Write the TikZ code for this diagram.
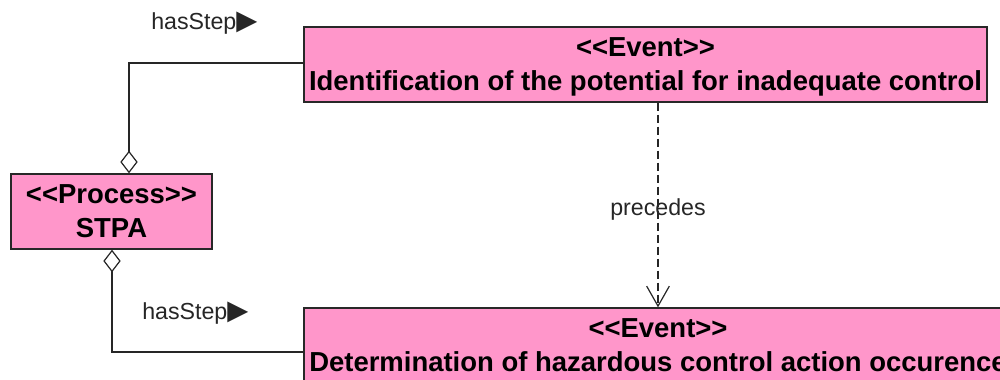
\documentclass[tikz,border=0pt]{standalone}
\usepackage{fontspec}
\setmainfont{Liberation Sans}[Ligatures=TeXOff]
\newfontfamily\symfont{DejaVu Sans}
\usetikzlibrary{arrows.meta}
\definecolor{boxpink}{RGB}{255,150,202}
\definecolor{edgegray}{RGB}{40,40,40}
\newcommand\steptri{{\symfont\fontsize{20.5}{20}\selectfont ▶}}
\begin{document}
\begin{tikzpicture}[x=0.75pt,y=-0.75pt,
  umlbox/.style={draw=edgegray,line width=1pt,fill=boxpink,inner sep=0pt,
    align=center,font=\bfseries\fontsize{20.6}{25.5}\selectfont,text depth=-5pt},
  lbl/.style={inner sep=0pt,font=\fontsize{17.4}{20}\selectfont,text=black!85},
  assoc/.style={draw=black!85,line width=0.9pt,
    -{Diamond[open,fill=white,length=17pt,width=13pt]}},
  dep/.style={draw=black!85,line width=0.9pt,dash pattern=on 6pt off 3pt,
    -{Straight Barb[length=15pt,width=17pt]}}
]
\clip (0,0) rectangle (1000,379);

% classes
\node[umlbox,minimum width=512.25pt,minimum height=56.25pt] (ev1) at (645.5,64.5)
  {<<Event>>\\Identification of the potential for inadequate control};
\node[umlbox,minimum width=150.75pt,minimum height=56.25pt,text depth=-5pt] (stpa) at (111.5,211.5)
  {<<Process>>\\STPA};
\node[umlbox,minimum width=531pt,minimum height=56.25pt] (ev2) at (658,345.5)
  {<<Event>>\\Determination of hazardous control action occurence};

% aggregation links
\coordinate (j1) at (129,63);
\coordinate (j2) at (112,352);
\draw[assoc] (ev1.west |- j1) -- (j1) -- (j1 |- stpa.north);
\draw[assoc] (ev2.west |- j2) -- (j2) -- (j2 |- stpa.south);
\node[lbl,anchor=west] (hs1) at (151,23) {hasStep\steptri};
\node[lbl,anchor=west] (hs2) at (142,313) {hasStep\steptri};

% dependency
\coordinate (d) at (658,0);
\draw[dep] (d |- ev1.south) -- (d |- ev2.north)
  node[lbl,pos=0.52] (prec) {precedes};
\end{tikzpicture}
\end{document}
